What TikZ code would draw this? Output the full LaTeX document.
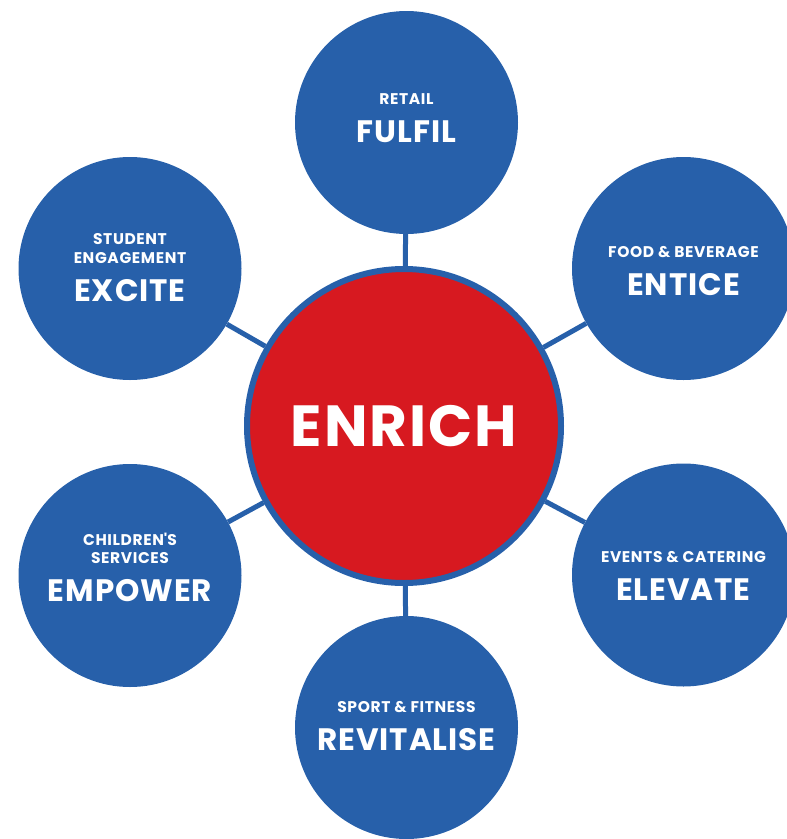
\documentclass[tikz,border=0pt]{standalone}
\usepackage{fontspec}
\setmainfont{Poppins}
\usetikzlibrary{positioning}
\definecolor{hubred}{HTML}{D71920}
\definecolor{satblue}{HTML}{2760AA}
\newcommand{\hubfont}{\fontsize{58}{60}\selectfont\bfseries\addfontfeature{LetterSpace=3.5}}
\newcommand{\tagfont}{\fontsize{15.5}{18.3}\selectfont\bfseries\addfontfeature{LetterSpace=4}}
\newcommand{\wordfont}{\fontsize{31}{34}\selectfont\bfseries\addfontfeature{LetterSpace=3}}

\begin{document}
\begin{tikzpicture}[x=1pt, y=-1pt,
        hub/.style={circle, draw=satblue, line width=6pt, fill=hubred, minimum size=314pt, inner sep=0pt, text=white, font=\hubfont},
        sat/.style={circle, fill=satblue, minimum size=223pt, inner sep=0pt},
        tag/.style={align=center, text=white, font=\tagfont, inner sep=0pt},
        link/.style={draw=satblue, line width=5pt}]
        \clip (0,0) rectangle (787,839);
        \node[hub] (enrich) at (404,426) {ENRICH};
        \foreach \name/\x/\y/\dy/\sub/\word in {fulfil/406.5/122.5/4/RETAIL/FULFIL,
                entice/683.5/268.5/-2.5/FOOD \& BEVERAGE/ENTICE,
                elevate/683.5/575/-1/EVENTS \& CATERING/ELEVATE,
                revitalise/406.5/727.5/1.7/SPORT \& FITNESS/REVITALISE,
                empower/130/575.5/8/{CHILDREN\textquotesingle S\\\tagfont SERVICES}/EMPOWER,
                excite/130/268.5/1/{STUDENT\\\tagfont ENGAGEMENT}/EXCITE}{
            \node[sat] (\name) at (\x,\y) {};
            \node[tag] (\name-t) at ([yshift=\dy pt]\name.center) {\sub\\[15pt]\wordfont \word};
            \draw[link] (enrich) -- (\name);}
\end{tikzpicture}
\end{document}
